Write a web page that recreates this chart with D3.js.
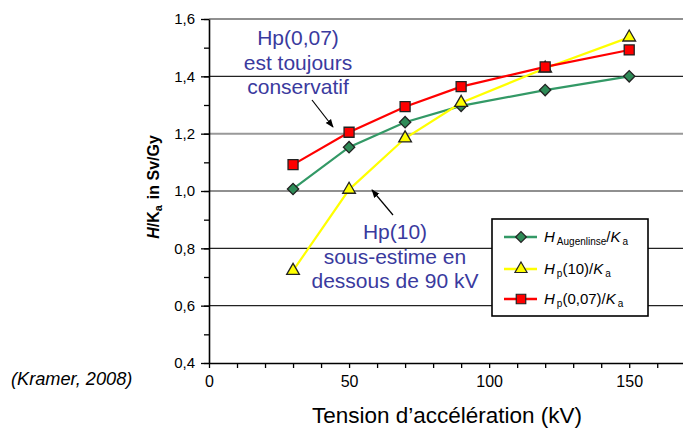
<!DOCTYPE html>
<html>
<head>
<meta charset="utf-8">
<script src="https://cdn.jsdelivr.net/npm/d3@7"></script>
<style>
  body { margin: 0; background: #fff; }
  svg { font-family: "Liberation Sans", Arial, sans-serif; display: block; }
</style>
</head>
<body>
<div id="chart"></div>
<script>
// Data
const VOLTAGES = [30, 50, 70, 90, 120, 150];
const AUGENLINSE = [1.007, 1.153, 1.24, 1.297, 1.352, 1.40];
const HP10 = [0.722, 1.005, 1.184, 1.308, 1.428, 1.536];
const HP007 = [1.092, 1.205, 1.294, 1.364, 1.433, 1.492];
const Y_TICKS = [0.4, 0.6, 0.8, 1.0, 1.2, 1.4, 1.6];
const X_TICKS = [0, 50, 100, 150];

const FRAME_WIDTH = 683;
const FRAME_HEIGHT = 428;
const MARGINS = {left: 209, right: 0, top: 19, bottom: 65};
const FONT = "'Liberation Sans', Arial, sans-serif";

const SVG = d3.select("#chart")
  .append("svg")
    .attr("width", FRAME_WIDTH)
    .attr("height", FRAME_HEIGHT)
    .attr("font-family", FONT);

const xScale = d3.scaleLinear().domain([0, 169.2]).range([MARGINS.left, FRAME_WIDTH]);
const yScale = d3.scaleLinear().domain([0.4, 1.6]).range([FRAME_HEIGHT - MARGINS.bottom, MARGINS.top]);

// gridlines
SVG.append("g")
  .selectAll("line")
  .data(Y_TICKS.filter(d => d > 0.4))
  .enter().append("line")
    .attr("x1", MARGINS.left)
    .attr("x2", FRAME_WIDTH)
    .attr("y1", d => yScale(d))
    .attr("y2", d => yScale(d))
    .attr("stroke", d => Math.abs(d - 1.2) < 1e-6 ? "#999" : "#222")
    .attr("stroke-width", d => Math.abs(d - 1.2) < 1e-6 ? 2 : 1.2);

// y axis with minor ticks
const yMinor = d3.range(0.4, 1.61, 0.1);
SVG.append("g")
  .attr("transform", "translate(" + MARGINS.left + ",0)")
  .call(d3.axisLeft(yScale).tickValues(yMinor).tickSize(5).tickFormat(""))
  .call(g => g.select(".domain").remove())
  .selectAll("line").attr("stroke", "#000").attr("stroke-width", 1.3);

const yAxis = SVG.append("g")
  .attr("transform", "translate(" + MARGINS.left + ",0)")
  .call(d3.axisLeft(yScale).tickValues(Y_TICKS).tickSize(8).tickSizeOuter(0).tickPadding(6)
    .tickFormat(d => d3.format(".1f")(d).replace(".", ",")));
yAxis.select(".domain").attr("stroke", "#000").attr("stroke-width", 1.6);
yAxis.selectAll("line").attr("stroke", "#000").attr("stroke-width", 1.3);
yAxis.selectAll("text").attr("font-size", 15).attr("fill", "#000").attr("font-family", FONT);

// x axis with minor ticks
const xMinor = d3.range(0, 170, 10);
const xAxis = SVG.append("g")
  .attr("transform", "translate(0," + (FRAME_HEIGHT - MARGINS.bottom) + ")")
  .call(d3.axisBottom(xScale).tickValues(xMinor).tickSize(5).tickSizeOuter(0).tickPadding(8)
    .tickFormat(d => X_TICKS.includes(d) ? d : ""));
xAxis.select(".domain").attr("stroke", "#000").attr("stroke-width", 1.6);
xAxis.selectAll("line").attr("stroke", "#000").attr("stroke-width", 1.3);
xAxis.selectAll("text").attr("font-size", 16).attr("fill", "#000").attr("font-family", FONT);

// series
const SERIES = [
  {name: "aug", values: AUGENLINSE, color: "#339966", shape: d3.symbolSquare, size: 64, rot: 45, fill: "#2e8b57"},
  {name: "hp10", values: HP10, color: "#ffff00", shape: d3.symbolTriangle, size: 70, rot: 0, fill: "#ffff00"},
  {name: "hp007", values: HP007, color: "#ff0000", shape: d3.symbolSquare, size: 100, rot: 0, fill: "#ff0000"}
];

const line = d3.line()
  .x(d => xScale(d.x))
  .y(d => yScale(d.y));

SERIES.forEach(s => {
  const pts = VOLTAGES.map((v, i) => ({x: v, y: s.values[i]}));
  SVG.append("path")
    .datum(pts)
    .attr("fill", "none")
    .attr("stroke", s.color)
    .attr("stroke-width", 2.2)
    .attr("d", line);
});

SERIES.forEach(s => {
  const pts = VOLTAGES.map((v, i) => ({x: v, y: s.values[i]}));
  SVG.selectAll(".pt-" + s.name)
    .data(pts)
    .enter().append("path")
      .attr("class", "pt-" + s.name)
      .attr("transform", d => "translate(" + xScale(d.x) + "," + yScale(d.y) + ") rotate(" + s.rot + ")")
      .attr("d", d3.symbol().type(s.shape).size(s.size))
      .attr("fill", s.fill)
      .attr("stroke", "#222")
      .attr("stroke-width", 1.3);
});

// arrow marker
SVG.append("defs").append("marker")
  .attr("id", "arrow")
  .attr("viewBox", "0 0 10 10")
  .attr("refX", 9).attr("refY", 5)
  .attr("markerWidth", 7).attr("markerHeight", 7)
  .attr("orient", "auto")
  .append("path").attr("d", "M0,1 L10,5 L0,9 z").attr("fill", "#000");

// annotations
const NOTE_COLOR = "#3a3a9e";
function note(lines, cx, y0) {
  const t = SVG.append("text")
    .attr("text-anchor", "middle")
    .attr("font-size", 21)
    .attr("fill", NOTE_COLOR);
  lines.forEach((l, i) => {
    t.append("tspan").attr("x", cx).attr("y", y0 + i * 24.5).text(l);
  });
}
note(["Hp(0,07)", "est toujours", "conservatif"], 298, 45);
note(["Hp(10)", "sous-estime en", "dessous de 90 kV"], 395, 239);

SVG.append("line")
  .attr("x1", 312).attr("y1", 100).attr("x2", 333).attr("y2", 127)
  .attr("stroke", "#000").attr("stroke-width", 1.2).attr("marker-end", "url(#arrow)");
SVG.append("line")
  .attr("x1", 393).attr("y1", 215).attr("x2", 372).attr("y2", 190)
  .attr("stroke", "#000").attr("stroke-width", 1.2).attr("marker-end", "url(#arrow)");

// legend
const legend = SVG.append("g").attr("transform", "translate(492,219)");
legend.append("rect")
  .attr("width", 156).attr("height", 97)
  .attr("fill", "#fff").attr("stroke", "#000").attr("stroke-width", 1.6);

const LEGEND_LABELS = [
  [["H", "it", ""], ["Augenlinse", "", "sub"], ["/", "", ""], ["K", "it", ""], ["a", "", "sub"]],
  [["H", "it", ""], ["p", "", "sub"], ["(10)/", "", ""], ["K", "it", ""], ["a", "", "sub"]],
  [["H", "it", ""], ["p", "", "sub"], ["(0,07)/", "", ""], ["K", "it", ""], ["a", "", "sub"]]
];
const LEGEND_Y = [18, 50, 80];

SERIES.forEach((s, i) => {
  const row = legend.append("g").attr("transform", "translate(0," + LEGEND_Y[i] + ")");
  row.append("line").attr("x1", 12).attr("x2", 45).attr("stroke", s.color).attr("stroke-width", 2.5);
  row.append("path")
    .attr("transform", "translate(29,0) rotate(" + s.rot + ")")
    .attr("d", d3.symbol().type(s.shape).size(s.size * 0.9))
    .attr("fill", s.fill).attr("stroke", "#222").attr("stroke-width", 1.2);
  const t = row.append("text").attr("x", 52).attr("y", 5).attr("font-size", 15).attr("fill", "#000");
  LEGEND_LABELS[i].forEach((p, j) => {
    const prev = j > 0 ? LEGEND_LABELS[i][j - 1][2] : "";
    let dy = 0;
    if (p[2] === "sub" && prev !== "sub") dy = 3;
    if (p[2] !== "sub" && prev === "sub") dy = -3;
    const sp = t.append("tspan").attr("dy", dy).text(p[0]);
    if (p[1] === "it") sp.attr("font-style", "italic");
    if (p[2] === "sub") sp.attr("font-size", 10).attr("dx", 2);
  });
});

// y axis title
const yTitle = SVG.append("text")
  .attr("transform", "translate(159,187) rotate(-90)")
  .attr("text-anchor", "middle")
  .attr("font-size", 16)
  .attr("font-weight", "bold")
  .attr("fill", "#000");
yTitle.append("tspan").attr("font-style", "italic").text("H");
yTitle.append("tspan").text("/K");
yTitle.append("tspan").attr("font-size", 11).attr("dy", 3).text("a");
yTitle.append("tspan").attr("dy", -3).attr("dx", 6).text("in Sv/Gy");

// x axis title
SVG.append("text")
  .attr("x", 447).attr("y", 423)
  .attr("text-anchor", "middle")
  .attr("font-size", 22.5)
  .attr("fill", "#000")
  .text("Tension d\u2019accélération (kV)");

// source note
SVG.append("text")
  .attr("x", 11).attr("y", 385)
  .attr("font-size", 18.2)
  .attr("font-style", "italic")
  .attr("fill", "#000")
  .text("(Kramer, 2008)");
</script>
</body>
</html>
